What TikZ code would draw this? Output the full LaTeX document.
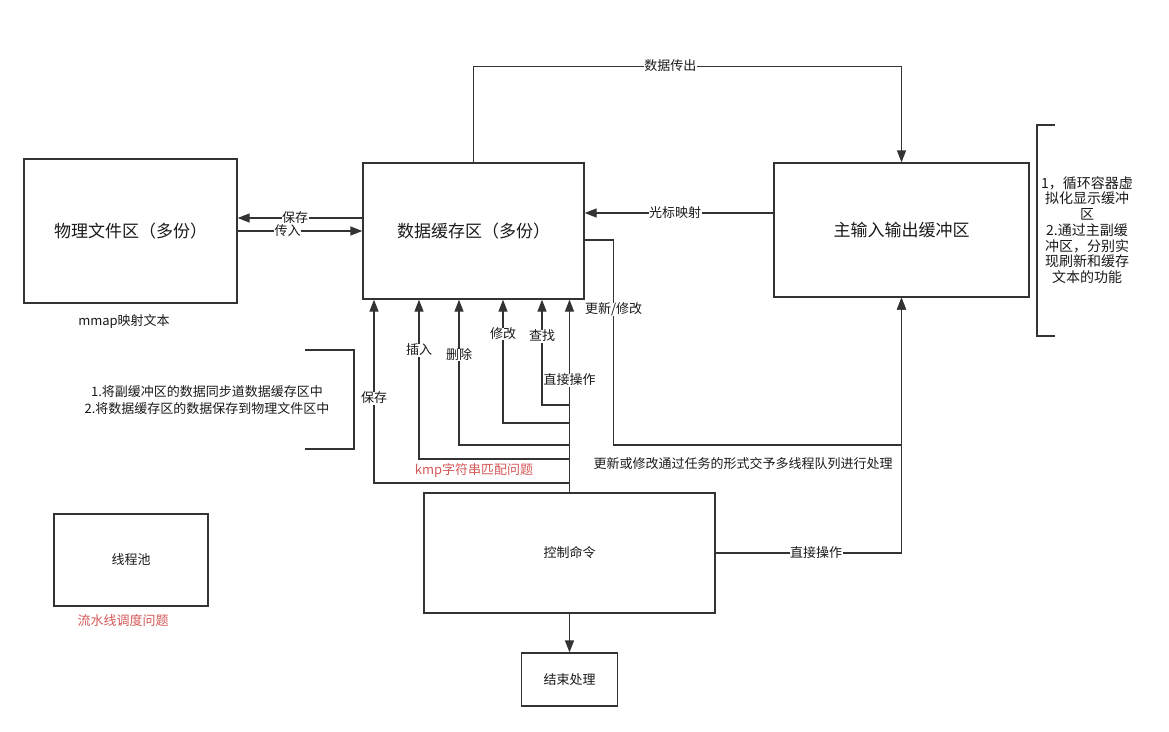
\documentclass[tikz,border=0pt]{standalone}
\usepackage{fontspec}
\setmainfont{Noto Sans CJK SC}
\usetikzlibrary{arrows.meta}
\definecolor{ink}{HTML}{333333}
\definecolor{txt}{HTML}{1a1a1a}
\definecolor{warn}{RGB}{214,88,88}
\tikzset{
  box/.style={draw=ink, line width=1.3pt, fill=white, inner sep=0pt, align=center, text=txt},
  bigtext/.style={font=\fontsize{17}{20}\selectfont},
  midtext/.style={font=\fontsize{13}{15}\selectfont},
  arr/.style={draw=ink, line width=1.3pt, -{Triangle[length=12pt,width=9pt]}},
  wire/.style={draw=ink, line width=1.3pt},
  lbl/.style={fill=white, inner sep=0.5pt, text height=10pt, text depth=1.5pt,
              font=\fontsize{13}{15}\selectfont, text=txt},
  note/.style={align=center, text=txt},
  warnnote/.style={text=warn, font=\fontsize{13}{15}\selectfont},
}
\begin{document}
\begin{tikzpicture}[x=1pt,y=-1pt]
\useasboundingbox[fill=white] (0,0) rectangle (1169,731);

% main blocks
\node[box, bigtext, minimum width=213pt, minimum height=144pt] (phys)  at (130.5,231) {物理文件区（多份）};
\node[box, bigtext, minimum width=221pt, minimum height=136pt] (cache) at (473.5,231) {数据缓存区（多份）};
\node[box, bigtext, minimum width=255pt, minimum height=134pt] (io)    at (901.5,230) {主输入输出缓冲区};
\node[box, midtext, minimum width=291pt, minimum height=120pt] (ctrl)  at (569.5,553) {控制命令};
\node[box, midtext, minimum width=96pt,  minimum height=53pt]  (endp)  at (569.5,679.5) {结束处理};
\node[box, midtext, minimum width=154pt, minimum height=92pt]  (pool)  at (131,560)   {线程池};

% captions
\node[note, midtext] (mmap) at (124,321) {mmap映射文本};
\node[warnnote] (pipe) at (123,621) {流水线调度问题};
\node[warnnote] (kmp)  at (474,470) {kmp字符串匹配问题};
\node[note, font=\fontsize{13}{16.7}\selectfont] (sync) at (207,400)
  {1.将副缓冲区的数据同步道数据缓存区中\\2.将数据缓存区的数据保存到物理文件区中};
\node[note, font=\fontsize{14}{15.7}\selectfont] (ionote) at (1087,230)
  {1，循环容器虚\\拟化显示缓冲\\区\\2.通过主副缓\\冲区，分别实\\现刷新和缓存\\文本的功能};
\node[note, midtext] (queue) at (743,464) {更新或修改通过任务的形式交予多线程队列进行处理};

% brackets around the notes
\draw[wire] (305,350) -- (354,350) -- (354,449) -- (305,449);
\draw[wire] (1055,125) -- (1037,125) -- (1037,336) -- (1055,336);

% file <-> cache
\draw[arr] ([yshift=13pt]cache.west) -- ([yshift=13pt]phys.east) node[lbl,pos=0.54] {保存};
\draw[arr] (phys.east) -- (cache.west) node[lbl,pos=0.4] {传入};

% cache <-> io buffer
\draw[arr] (cache.north) -- ++(0,-96) -| (io.north) node[lbl,pos=0.23] {数据传出};
\draw[arr] ([yshift=17pt]io.west) -- ([yshift=17pt]io.west -| cache.east) node[lbl,pos=0.52] {光标映射};
\draw[arr] ([yshift=-9pt]cache.east) -- ++(29,0) -- ++(0,205) node[lbl,pos=0.34] {更新/修改} -| (io.south);

% control commands
\draw[arr] (ctrl.east) -| (io.south) node[lbl,pos=0.27] {直接操作};
\draw[arr] (ctrl.south) -- (endp.north);
\draw[arr] (ctrl.north) -- (ctrl.north |- cache.south) node[lbl,pos=0.58] {直接操作};
\draw[arr] (ctrl.north |- 0,405) -| ([xshift=68.5pt]cache.south)  node[lbl,pos=0.825] {查找};
\draw[arr] (ctrl.north |- 0,423) -| ([xshift=29.5pt]cache.south)  node[lbl,pos=0.86]  {修改};
\draw[arr] (ctrl.north |- 0,445) -| ([xshift=-14.5pt]cache.south) node[lbl,pos=0.81]  {删除};
\draw[arr] (ctrl.north |- 0,459) -| ([xshift=-54.5pt]cache.south) node[lbl,pos=0.84]  {插入};
\draw[arr] (ctrl.north |- 0,483) -| ([xshift=-99.5pt]cache.south) node[lbl,pos=0.73]  {保存};
\end{tikzpicture}
\end{document}
